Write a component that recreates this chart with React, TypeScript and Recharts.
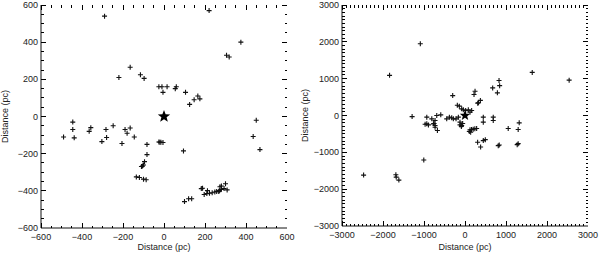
import React from "react";
import { ScatterChart, Scatter, XAxis, YAxis, Label } from "recharts";

// left panel: stars within 600 pc (x, y in pc)
const nearX = [
  -290, 220, 375, 305, 318, -165, -220, -115, -97, -25, -10, 15, -5, 55, 60, 105, 125, 147, 165, 175, 450, -445,
  -490, -445, -438, -365, -357, -303, -283, -280, -248, -205, -190, -180, -165, -145, -83, -83, -95, -100, -110, -105,
  -25, -20, -15, -5, 95, -135, -120, -100, -87, 100, 120, 135, 182, 188, 196, 209, 222, 235, 248, 257, 270, 280, 293,
  212, 267, 273, 280, 300, 308, 435, 468,
];
const nearY = [
  540, 570, 400, 330, 320, 265, 210, 225, 205, 160, 160, 160, 130, 150, 160, 130, 65, 90, 110, 95, -20, -30,
  -110, -70, -115, -80, -60, -135, -70, -113, -50, -145, -70, -90, -62, -110, -150, -205, -243, -261, -269, -267,
  -137, -138, -139, -140, -185, -325, -328, -337, -340, -458, -443, -443, -388, -386, -420, -415, -413, -410, -406, -403, -399, -392, -388,
  -399, -404, -378, -374, -362, -395, -108, -178,
];

// right panel: full sample (x, y in pc)
const farX = [
  -1090, -1840, 1640, 2540, 830, 845, 675, 790, 220, 245, 310, 330, 375, -300,
  -187, -138, -81, -41, 16, 81, 122, 162, -1290,
  -932, -810, -730, -689, -591, -446, -381, -324, -284, -219, -162, -122, -81,
  446, 446, 689, 689, -932, -770, -730, -973, -892, -754, -730, -673,
  -122, -89, -57, 122, 160, 200, 240, 284, 105, 138,
  308, 381, 446, 495, 811, 835, 1054, 1297, 1322, 1273, 1297,
  -1005, -2473, -1686, -1678, -1613,
];
const farY = [
  1950, 1090, 1170, 960, 950, 810, 750, 615, 570, 660, 335, 345, 410, 540,
  280, 254, 181, 154, 136, 154, 91, 136, -30,
  -45, -91, -136, 0, 18, -91, -45, -64, -91, -91, -45, -181, -272,
  -45, -181, -45, -136, -227, -227, -317, -236, -255, -218, -273, -409,
  -255, -300, -218, -390, -380, -370, -360, -354, -436, -454,
  -727, -855, -682, -655, -818, -800, -354, -382, -200, -791, -764,
  -1209, -1618, -1609, -1673, -1754,
];

const sun = [{ x: 0, y: 0 }];

const nearTicks = [-600, -400, -200, 0, 200, 400, 600];
const farTicks = [-3000, -2000, -1000, 0, 1000, 2000, 3000];

const toPoints = (xs: number[], ys: number[]) => xs.map((x, i) => ({ x, y: ys[i] }));

const withMinor = (majors: number[], step: number) => {
  const out: number[] = [];
  const lo = majors[0];
  const hi = majors[majors.length - 1];
  for (let v = lo; v <= hi + 1e-6; v += step) out.push(Math.round(v));
  return out;
};

const INK = "#111";
const FONT = "'Liberation Sans', Arial, sans-serif";

const Plus = (props: any) => {
  const { cx, cy } = props;
  if (cx == null || cy == null) return <g />;
  return <path d={`M${cx - 2.5},${cy}h5M${cx},${cy - 2.5}v5`} stroke={INK} strokeWidth={1.1} />;
};

const makeStar = (r: number) => (props: any) => {
  const { cx, cy } = props;
  const pts: string[] = [];
  for (let i = 0; i < 10; i++) {
    const rad = i % 2 === 0 ? r : r * 0.42;
    const a = (Math.PI / 5) * i - Math.PI / 2;
    pts.push(`${cx + rad * Math.cos(a)},${cy + rad * Math.sin(a)}`);
  }
  return <polygon points={pts.join(" ")} fill="#000" />;
};

// tick mark drawn inward from the frame; dx/dy give the direction
const tickMark = (dx: number, dy: number) => (props: any) => {
  const { cx, cy, payload } = props;
  if (cx == null || cy == null) return <g />;
  const len = payload.major ? 5 : 2.5;
  return (
    <line
      x1={cx}
      y1={cy}
      x2={cx + dx * len}
      y2={cy + dy * len}
      stroke="#000"
      strokeWidth={1}
      shapeRendering="crispEdges"
    />
  );
};

const fmt = (v: number) => (v < 0 ? `\u2212${Math.abs(v)}` : `${v}`);

const bottomLabel = (props: any) => {
  const { x, y, payload } = props;
  return (
    <text x={x} y={Number(y) + 12} textAnchor="middle" fontSize={9} fontFamily={FONT} fill="#222">
      {fmt(payload.value)}
    </text>
  );
};

const leftLabel = (props: any) => {
  const { x, y, payload } = props;
  return (
    <text x={Number(x) - 3} y={Number(y) + 3} textAnchor="end" fontSize={9} fontFamily={FONT} fill="#222">
      {fmt(payload.value)}
    </text>
  );
};

interface PanelProps {
  points: { x: number; y: number }[];
  majors: number[];
  step: number;
  starR: number;
  yWidth: number;
  xHeight: number;
  right: number;
}

const Panel: React.FC<PanelProps> = ({ points, majors, step, starR, yWidth, xHeight, right }) => {
  const lo = majors[0];
  const hi = majors[majors.length - 1];
  const domain: [number, number] = [lo, hi];
  const all = withMinor(majors, step).map((v) => ({ v, major: majors.includes(v) }));
  const bottomTicks = all.map((t) => ({ x: t.v, y: lo, major: t.major }));
  const topTicks = all.map((t) => ({ x: t.v, y: hi, major: t.major }));
  const leftTicks = all.map((t) => ({ x: lo, y: t.v, major: t.major }));
  const rightTicks = all.map((t) => ({ x: hi, y: t.v, major: t.major }));
  const axisProps = {
    type: "number" as const,
    domain,
    ticks: majors,
    interval: 0 as const,
    tickSize: 0,
    tickMargin: 0,
    tickLine: false,
    allowDataOverflow: true,
    axisLine: { stroke: INK },
  };
  return (
    <ScatterChart width={300} height={253} margin={{ top: 5, right, bottom: 0, left: 0 }}>
      <XAxis dataKey="x" orientation="bottom" height={xHeight} {...axisProps} tick={bottomLabel}>
        <Label
          content={(p: any) => {
            const vb = p.viewBox || { x: 0, y: 0, width: 0 };
            return (
              <text x={vb.x + vb.width / 2} y={250} textAnchor="middle" fontSize={9} fontFamily={FONT} fill="#222">
                Distance (pc)
              </text>
            );
          }}
        />
      </XAxis>
      <YAxis dataKey="y" orientation="left" width={yWidth} {...axisProps} tick={leftLabel}>
        <Label
          content={(p: any) => {
            const vb = p.viewBox || { x: 0, y: 0, height: 0 };
            const cy = vb.y + vb.height / 2;
            return (
              <text
                x={8}
                y={cy}
                transform={`rotate(-90 8 ${cy})`}
                textAnchor="middle"
                fontSize={9}
                fontFamily={FONT}
                fill="#222"
              >
                Distance (pc)
              </text>
            );
          }}
        />
      </YAxis>
      <XAxis xAxisId="t" dataKey="x" orientation="top" height={0} {...axisProps} tick={false} />
      <YAxis yAxisId="r" dataKey="y" orientation="right" width={0} {...axisProps} tick={false} />
      <Scatter data={bottomTicks} shape={tickMark(0, -1)} isAnimationActive={false} />
      <Scatter data={topTicks} shape={tickMark(0, 1)} isAnimationActive={false} />
      <Scatter data={leftTicks} shape={tickMark(1, 0)} isAnimationActive={false} />
      <Scatter data={rightTicks} shape={tickMark(-1, 0)} isAnimationActive={false} />
      <Scatter data={points} shape={Plus} isAnimationActive={false} />
      <Scatter data={sun} shape={makeStar(starR)} isAnimationActive={false} />
    </ScatterChart>
  );
};

export default function App() {
  return (
    <div style={{ position: "absolute", left: 0, top: 0, width: 600, height: 253, background: "#fff", display: "flex" }}>
      <Panel points={toPoints(nearX, nearY)} majors={nearTicks} step={50} starR={6.5} yWidth={41} xHeight={25} right={13} />
      <Panel points={toPoints(farX, farY)} majors={farTicks} step={100} starR={5.5} yWidth={42} xHeight={27} right={12} />
    </div>
  );
}
